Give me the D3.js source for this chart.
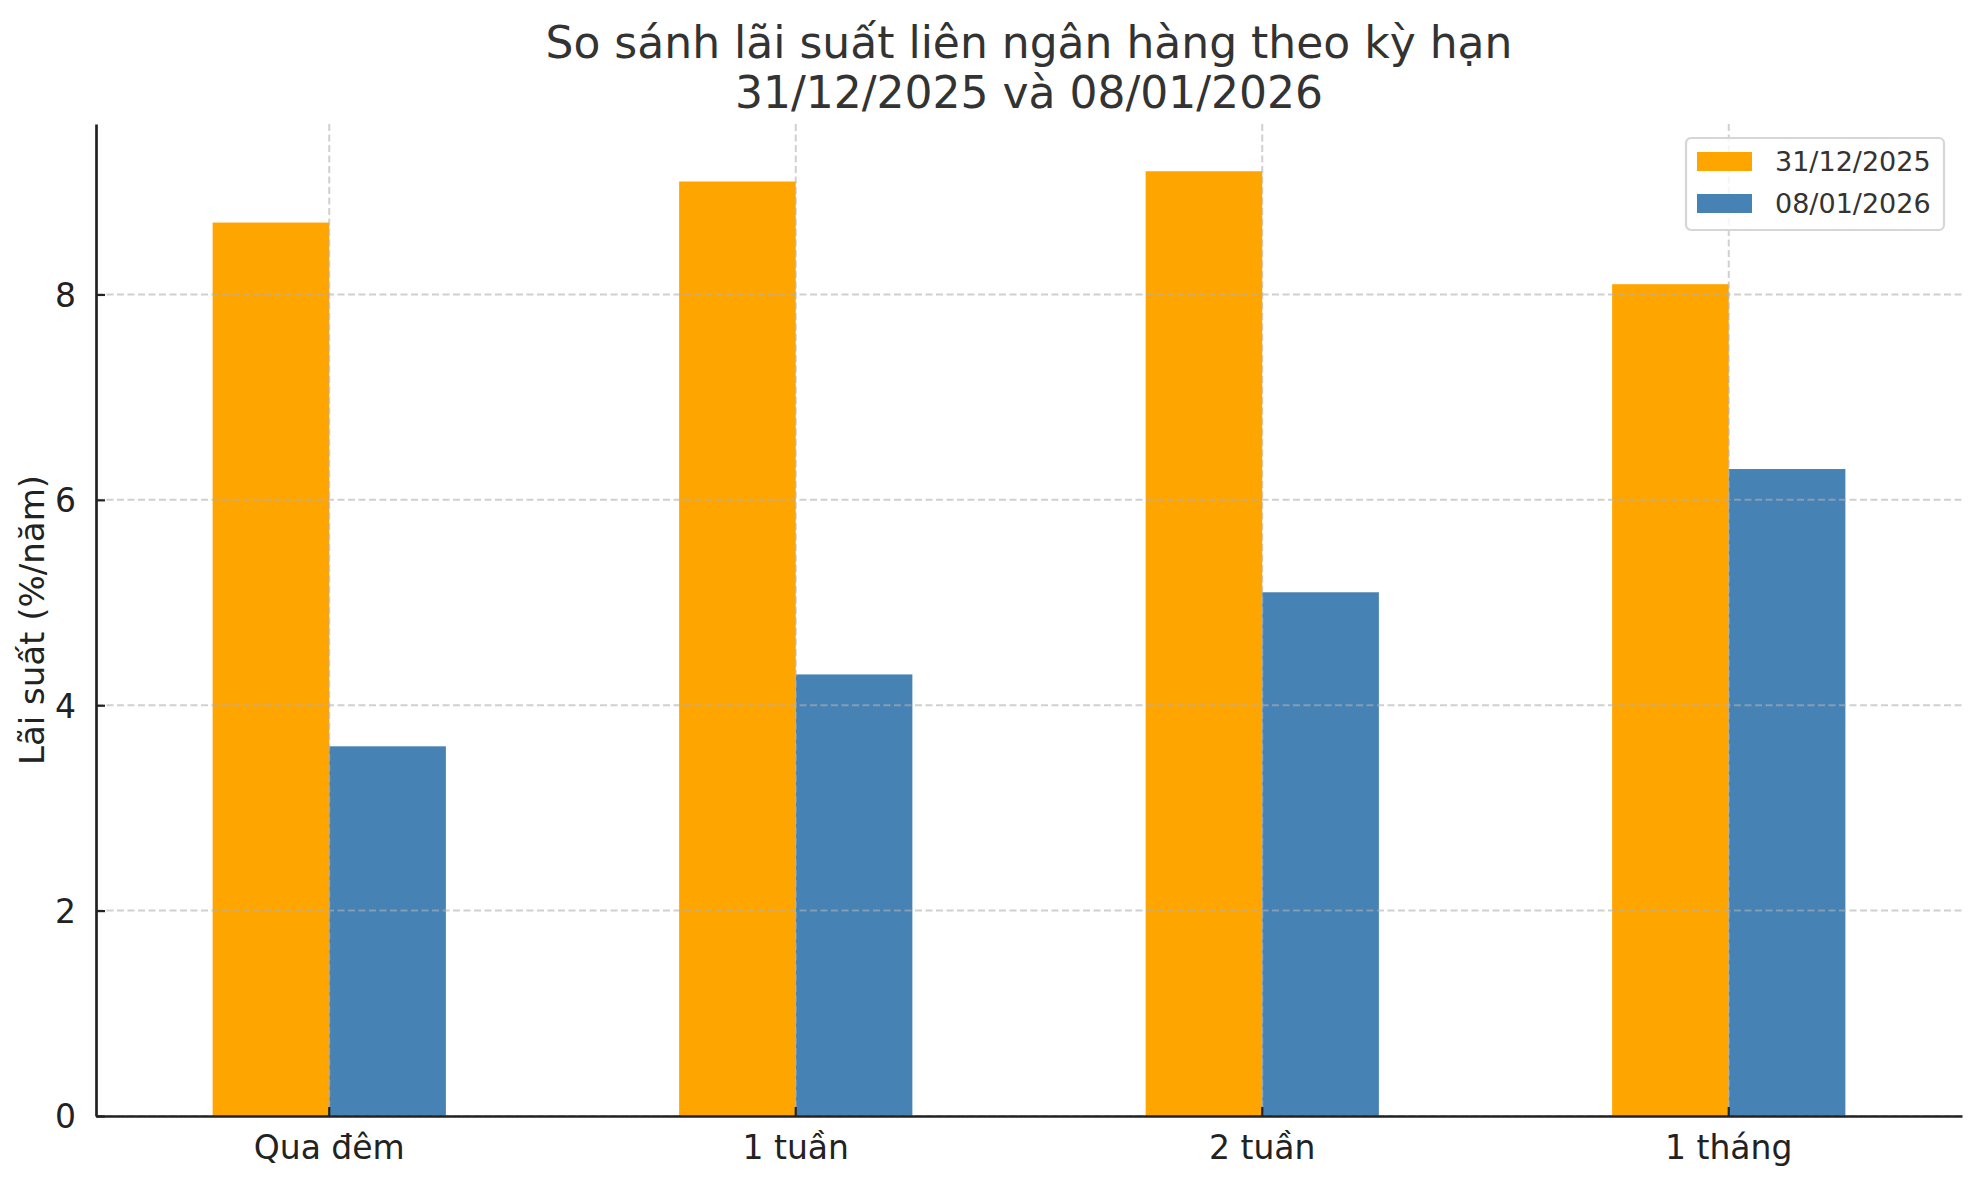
<!DOCTYPE html>
<html>
<head>
<meta charset="utf-8">
<script src="https://cdn.jsdelivr.net/npm/d3@7"></script>
<style>
  body { margin: 0; background: #fff; }
  text { font-family: "DejaVu Sans", sans-serif; }
</style>
</head>
<body>
<script>
(function () {

    var w = 1980;
    var h = 1180;
    var margin = { top: 124, right: 18, bottom: 64, left: 96 };

    var categories = ["Qua đêm", "1 tuần", "2 tuần", "1 tháng"];
    var seriesNames = ["31/12/2025", "08/01/2026"];
    var rates20251231 = [8.7, 9.1, 9.2, 8.1];
    var rates20260108 = [3.6, 4.3, 5.1, 6.3];
    var yTicks = [0, 2, 4, 6, 8];
    var colors = ["#FFA500", "#4682B4"];

    var series = [rates20251231, rates20260108];

    var svg = d3.select("body").append("svg")
        .attr("width", w)
        .attr("height", h);

    var x = d3.scaleBand()
        .domain(categories)
        .range([margin.left, w - margin.right])
        .padding(0);

    // two bars per group, each a quarter of the step, meeting at the tick
    var sub = d3.scaleBand()
        .domain(seriesNames)
        .range([x.bandwidth() / 4, x.bandwidth() * 3 / 4]);

    var ymax = d3.max(series, function (s) { return d3.max(s); }) * 1.05;
    var y = d3.scaleLinear()
        .domain([0, ymax])
        .range([h - margin.bottom, margin.top]);

    // bars
    series.forEach(function (vals, si) {
        svg.selectAll("rect.s" + si)
            .data(vals)
            .enter()
            .append("rect")
            .attr("class", "s" + si)
            .attr("x", function (d, i) { return x(categories[i]) + sub(seriesNames[si]); })
            .attr("y", function (d) { return y(d); })
            .attr("width", sub.bandwidth())
            .attr("height", function (d) { return y(0) - y(d); })
            .attr("fill", colors[si]);
    });

    // grid (drawn over the bars, like the original)
    var grid = svg.append("g")
        .attr("stroke", "#b0b0b0")
        .attr("stroke-opacity", 0.6)
        .attr("stroke-width", 2)
        .attr("stroke-dasharray", "7,3.5");

    grid.selectAll("line.gy")
        .data(yTicks)
        .enter()
        .append("line")
        .attr("class", "gy")
        .attr("x1", margin.left)
        .attr("x2", w - margin.right)
        .attr("y1", function (d) { return y(d); })
        .attr("y2", function (d) { return y(d); });

    grid.selectAll("line.gx")
        .data(categories)
        .enter()
        .append("line")
        .attr("class", "gx")
        .attr("x1", function (d) { return x(d) + x.bandwidth() / 2; })
        .attr("x2", function (d) { return x(d) + x.bandwidth() / 2; })
        .attr("y1", margin.top)
        .attr("y2", h - margin.bottom);

    // axes
    var xAxis = d3.axisBottom(x).tickSizeInner(-9).tickSizeOuter(0).tickPadding(19);
    var yAxis = d3.axisLeft(y).tickValues(yTicks).tickSizeInner(-9).tickSizeOuter(0).tickPadding(20);

    var gx = svg.append("g")
        .attr("transform", "translate(0," + y(0) + ")")
        .call(xAxis);
    var gy = svg.append("g")
        .attr("transform", "translate(" + margin.left + ",0)")
        .call(yAxis);

    [gx, gy].forEach(function (g) {
        g.select(".domain").attr("stroke", "#222").attr("stroke-width", 2.7);
        g.selectAll(".tick line").attr("stroke", "#222").attr("stroke-width", 2.2);
        g.selectAll(".tick text")
            .attr("fill", "#222")
            .style("font-family", "'DejaVu Sans', sans-serif")
            .style("font-size", "33px");
    });
    gy.selectAll(".tick text").attr("dy", "0.36em");
    gx.selectAll(".tick text").attr("dy", "0.72em");

    // y label
    svg.append("text")
        .attr("transform", "translate(44," + (margin.top + (h - margin.bottom)) / 2 + ") rotate(-90)")
        .attr("text-anchor", "middle")
        .attr("fill", "#222")
        .style("font-size", "34px")
        .text("Lãi suất (%/năm)");

    // title
    var cx = (margin.left + w - margin.right) / 2;
    svg.append("text")
        .attr("x", cx).attr("y", 58)
        .attr("text-anchor", "middle")
        .attr("fill", "#333")
        .style("font-size", "44px")
        .text("So sánh lãi suất liên ngân hàng theo kỳ hạn");
    svg.append("text")
        .attr("x", cx).attr("y", 108)
        .attr("text-anchor", "middle")
        .attr("fill", "#333")
        .style("font-size", "44px")
        .text("31/12/2025 và 08/01/2026");

    // legend
    var lg = svg.append("g").attr("transform", "translate(1686,138)");
    lg.append("rect")
        .attr("width", 258).attr("height", 92)
        .attr("rx", 5)
        .attr("fill", "#fff").attr("fill-opacity", 0.8)
        .attr("stroke", "#d6d6d6").attr("stroke-width", 2.2);

    var items = lg.selectAll("g.item")
        .data(seriesNames)
        .enter()
        .append("g")
        .attr("class", "item")
        .attr("transform", function (d, i) { return "translate(0," + (14 + i * 42) + ")"; });
    items.append("rect")
        .attr("x", 11).attr("width", 55).attr("height", 19)
        .attr("fill", function (d, i) { return colors[i]; });
    items.append("text")
        .attr("x", 89).attr("y", 19)
        .attr("fill", "#333")
        .style("font-size", "27px")
        .text(function (d) { return d; });
})();
</script>
</body>
</html>
